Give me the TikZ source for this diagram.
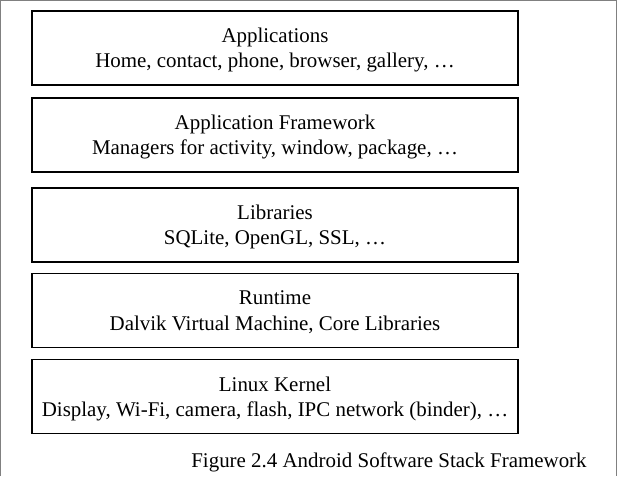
\documentclass[tikz,border=0pt]{standalone}
\usepackage{fontspec}
\setmainfont{Liberation Serif}
\usetikzlibrary{positioning}

\begin{document}
\begin{tikzpicture}[x=0.75pt,y=-0.75pt]
	\tikzstyle{layer}=[draw=black,line width=1.1pt,minimum width=364.5pt,minimum height=55.5pt,align=center,inner sep=0pt,font=\fontsize{15.7}{19}\selectfont,text depth=0pt]
	\useasboundingbox (0,0) rectangle (617,476);
	\draw [gray,line width=0.8pt] (0.5,476) -- (0.5,0.5) -- (616.5,0.5) -- (616.5,476);
	\node [layer] (apps) at (275,48) {Applications\\Home, contact, phone, browser, gallery, \dots};
	\node [layer] (framework) at (275,135) {Application Framework\\Managers for activity, window, package, \dots};
	\node [layer] (libs) at (275,225) {Libraries\\SQLite, OpenGL, SSL, \dots};
	\node [layer] (runtime) at (275,310.5) {Runtime\\Dalvik Virtual Machine, Core Libraries};
	\node [layer] (kernel) at (275,396.5) {Linux Kernel\\Display, Wi-Fi, camera, flash, IPC network (binder), \dots};
	\node [font=\fontsize{15.7}{18}\selectfont] (caption) at (389,462) {Figure 2.4 Android Software Stack Framework};
\end{tikzpicture}
\end{document}
